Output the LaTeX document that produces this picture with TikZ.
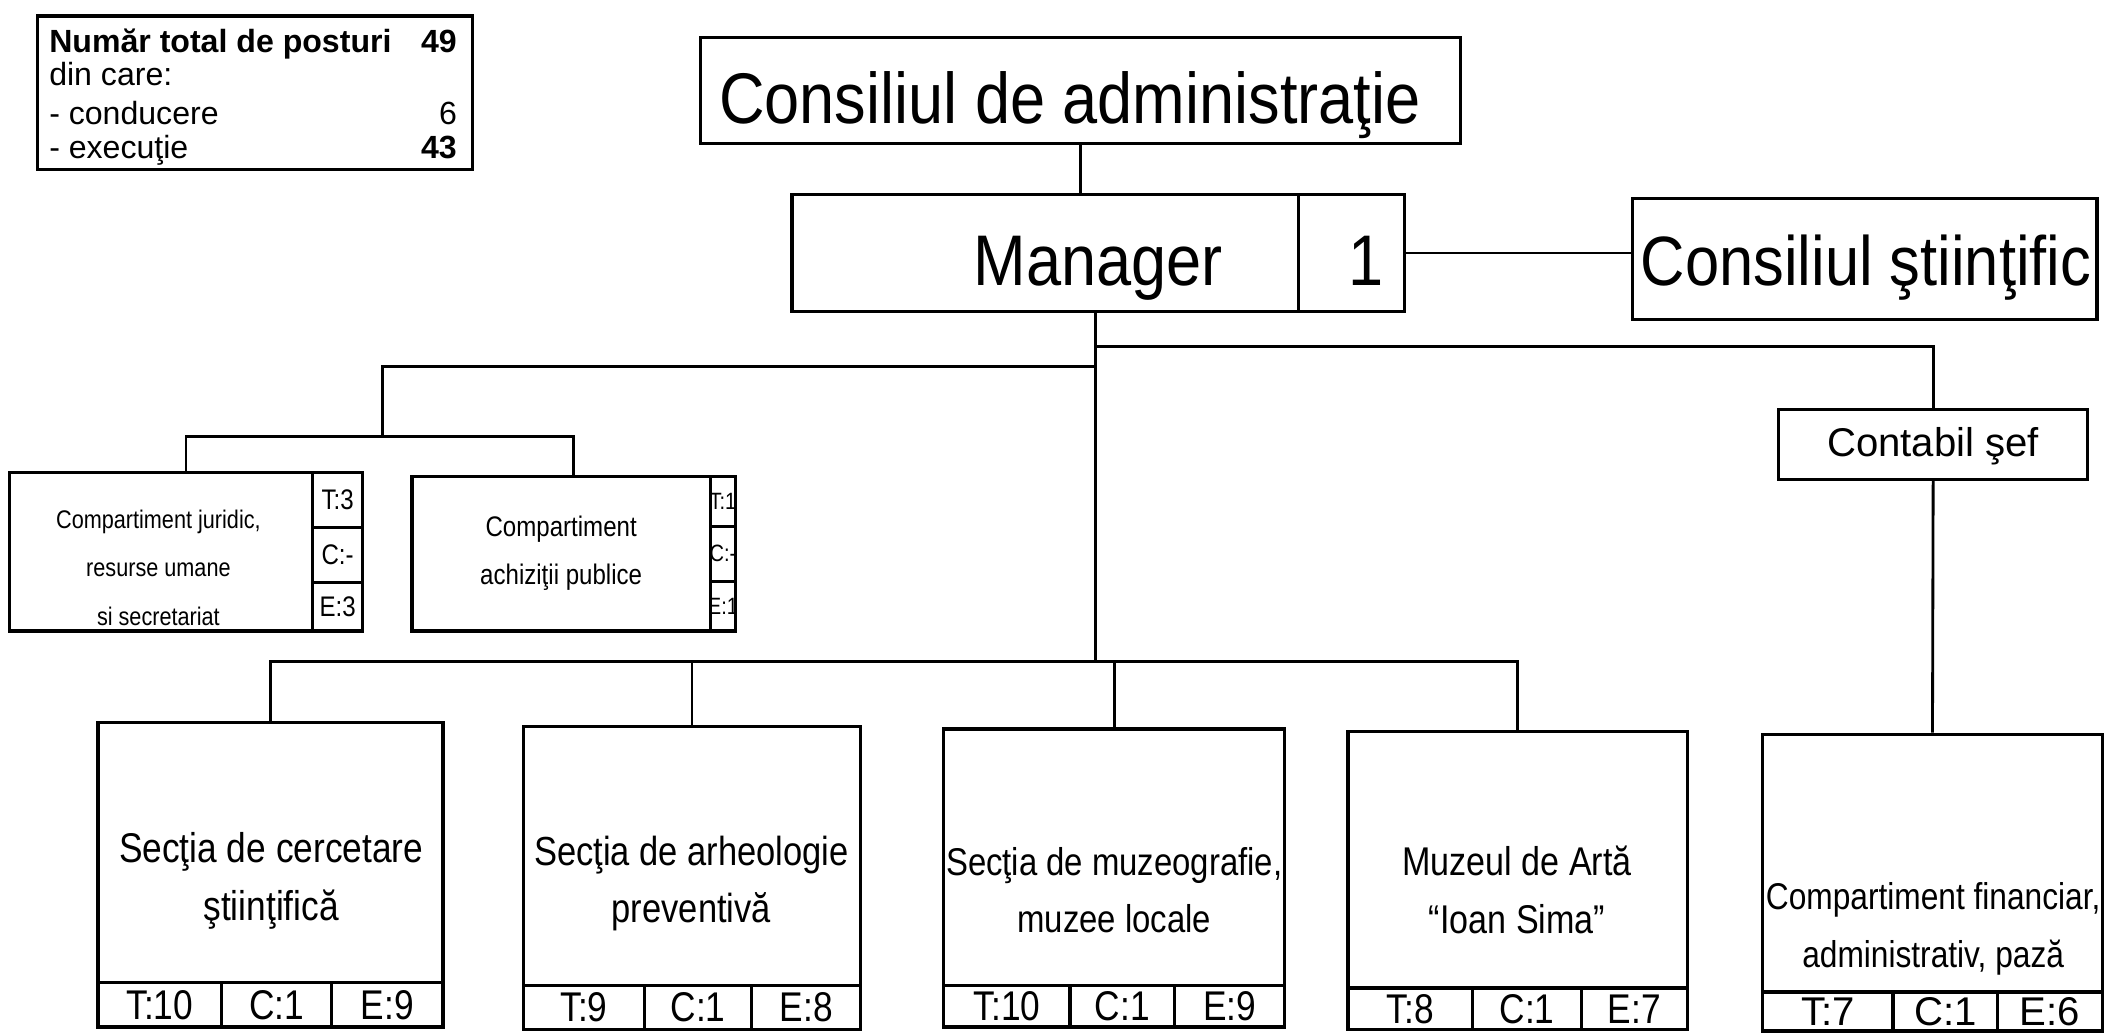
\documentclass[tikz,border=0pt]{standalone}
\usepackage{fontspec}
\setmainfont{Liberation Sans}
\newfontfamily\narrowsans[FakeStretch=0.85]{Liberation Sans}
\newfontfamily\titlesans[FakeStretch=0.88]{Liberation Sans}
\usetikzlibrary{fit}

\tikzset{
  box/.style={draw, line width=0.7pt, inner sep=0pt},
  lnk/.style={line width=0.6pt},
  big/.style={font=\titlesans\fontsize{15.2}{17}\selectfont, inner sep=0pt},
  sect/.style={font=\narrowsans\fontsize{#1}{12.2}\selectfont, align=center, inner sep=0pt},
  cell/.style={box, label={[font=\narrowsans\fontsize{8.8}{10}\selectfont]center:#1}},
  fincell/.style={box, label={[font=\fontsize{8.5}{10}\selectfont]center:#1}},
  tiny/.style={font=\narrowsans\fontsize{#1}{10.3}\selectfont, align=center, inner sep=0pt},
  tinycell/.style={box, label={[font=\narrowsans\fontsize{6}{7}\selectfont]center:#1}},
  slimcell/.style={box, label={[font=\narrowsans\fontsize{5}{6}\selectfont, inner sep=0pt]center:#1}},
  legtext/.style={font=\fontsize{6.8}{7}\selectfont, inner sep=0pt}
}

\begin{document}
\begin{tikzpicture}[x=0.1mm, y=-0.1mm]
\useasboundingbox (0,0) rectangle (1568,770);

% legenda
\node[box, fit={(28,12) (352,126)}] (leg) {};
\node[legtext, anchor=base west] (leg1) at (36,39) {\bfseries Număr total de posturi};
\node[legtext, anchor=base east] (leg1n) at (341,39) {\bfseries 49};
\node[legtext, anchor=base west] (leg2) at (36,64) {din care:};
\node[legtext, anchor=base west] (leg3) at (36,93) {- conducere};
\node[legtext, anchor=base east] (leg3n) at (341,93) {6};
\node[legtext, anchor=base west] (leg4) at (36,118) {- execuţie};
\node[legtext, anchor=base east] (leg4n) at (341,118) {\bfseries 43};

% conducere
\node[box, fit={(522,28) (1088,107)}] (cda) {};
\node[big, anchor=base] (cdat) at (797,92) {Consiliul de administraţie};
\node[box, fit={(590,145) (967,232)}] (mgr) {};
\node[box, fit={(967,145) (1046,232)}] (mgrn) {};
\node[big, anchor=base] (mgrt) at (818,213) {Manager};
\node[big, anchor=base east] (mgrnt) at (1031,213) {1};
\node[box, fit={(1216,148) (1562,238)}] (cs) {};
\node[big, anchor=base, font=\titlesans\fontsize{14.8}{17}\selectfont] (cst) at (1390,213) {Consiliul ştiinţific};
\node[box, fit={(1325,305) (1555,357)}] (cont) {};
\node[font=\fontsize{8.5}{10}\selectfont, inner sep=0pt, anchor=base] (contt) at (1440,340) {Contabil şef};

% compartimente mici
\node[box, fit={(7,352) (270,470)}] (jur) {};
\node[tiny=5.4] (jurt) at (118,423) {Compartiment juridic,\\resurse umane\\si secretariat};
\node[tinycell=T:3, fit={(233,352) (270,393)}] (jurT) {};
\node[tinycell=C:-, fit={(233,393) (270,434)}] (jurC) {};
\node[tinycell=E:3, fit={(233,434) (270,470)}] (jurE) {};

\node[box, fit={(307,355) (548,470)}] (ach) {};
\node[tiny=6] (acht) at (418,412) {Compartiment\\achiziţii publice};
\node[slimcell=T:1, fit={(529,355) (548,392)}] (achT) {};
\node[slimcell=C:-, fit={(529,392) (548,433)}] (achC) {};
\node[slimcell=E:1, fit={(529,433) (548,470)}] (achE) {};

% sectii
\node[box, fit={(73,538) (330,732)}] (sc) {};
\node[sect=8.8] (sct) at (202,656) {Secţia de cercetare\\ştiinţifică};
\node[cell=T:10, fit={(73,732) (165,765)}] (scT) {};
\node[cell=C:1, fit={(165,732) (247,765)}] (scC) {};
\node[cell=E:9, fit={(247,732) (330,765)}] (scE) {};

\node[box, fit={(390,541) (641,734)}] (sa) {};
\node[sect=8.6] (sat) at (515,658) {Secţia de arheologie\\preventivă};
\node[cell=T:9, fit={(390,734) (480,767)}] (saT) {};
\node[cell=C:1, fit={(480,734) (560,767)}] (saC) {};
\node[cell=E:8, fit={(560,734) (641,767)}] (saE) {};

\node[box, fit={(703,543) (957,734)}] (sm) {};
\node[sect=8.2] (smt) at (830,663) {Secţia de muzeografie,\\muzee locale};
\node[cell=T:10, fit={(703,734) (797,765)}] (smT) {};
\node[cell=C:1, fit={(797,734) (875,765)}] (smC) {};
\node[cell=E:9, fit={(875,734) (957,765)}] (smE) {};

\node[box, fit={(1004,545) (1257,736)}] (ma) {};
\node[sect=8.5] (mat) at (1130,663) {Muzeul de Artă\\“Ioan Sima”};
\node[cell=T:8, fit={(1004,736) (1097,767)}] (maT) {};
\node[cell=C:1, fit={(1097,736) (1178,767)}] (maC) {};
\node[cell=E:7, fit={(1178,736) (1257,767)}] (maE) {};

\node[box, fit={(1313,547) (1566,739)}] (fin) {};
\node[sect=7.9] (fint) at (1440,692) {Compartiment financiar,\\administrativ, pază};
\node[fincell=T:7, fit={(1313,739) (1410,768)}] (finT) {};
\node[fincell=C:1, fit={(1410,739) (1488,768)}] (finC) {};
\node[fincell=E:6, fit={(1488,739) (1566,768)}] (finE) {};

% legaturi
\coordinate (jr) at (816,258);
\coordinate (jl) at (816,273);
\coordinate (jc) at (285,325);
\coordinate (js) at (816,493);

\draw[lnk] (cda.south) -- (cda.south |- mgr.north);
\draw[lnk] (mgrn.east) -- (mgrn.east -| cs.west);
\draw[lnk] (mgr.south -| js) -- (js);
\draw[lnk] (jr) -| (cont.north);
\draw[lnk] (jl) -| (jc);
\draw[lnk] (jur.north) |- (jc) -| (ach.north);
\draw[lnk] (sc.north) |- (js) -| (ma.north);
\draw[lnk] (sa.north) -- (sa.north |- js);
\draw[lnk] (sm.north) -- (sm.north |- js);
\draw[lnk] (cont.south) -- (fin.north);
\end{tikzpicture}
\end{document}
